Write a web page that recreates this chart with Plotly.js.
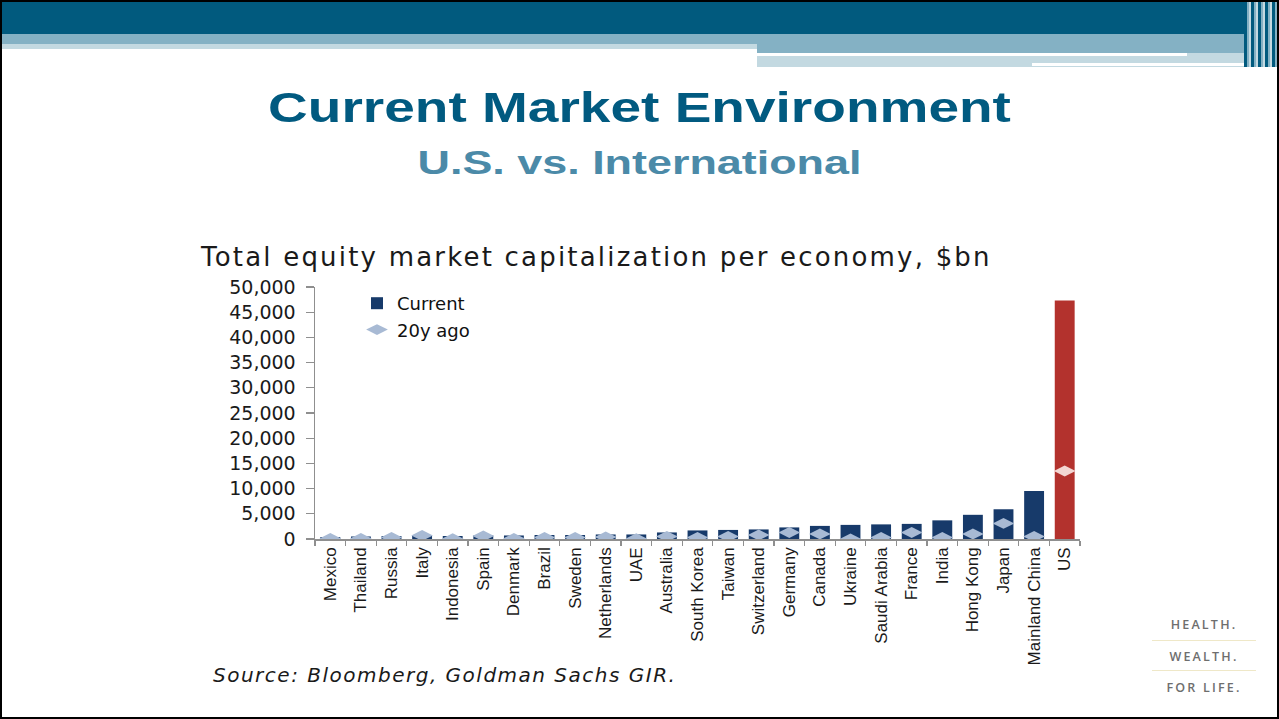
<!DOCTYPE html>
<html>
<head>
<meta charset="utf-8">
<script src="https://cdn.plot.ly/plotly-3.0.1.min.js"></script>
<style>
  html, body { margin: 0; padding: 0; background: #ffffff; }
  #slide { position: relative; width: 1279px; height: 719px; overflow: hidden; background: #ffffff; }
  .blk { position: absolute; }
  #chart { position: absolute; left: 0; top: 0; width: 1279px; height: 719px; }
  .stitle { position: absolute; left: 0; width: 1279px; text-align: center; white-space: nowrap;
            font-family: "Liberation Sans", Arial, sans-serif; font-weight: bold; }
  .logo { position: absolute; left: 1150px; width: 108px; text-align: center; font-family: "Open Sans", "Liberation Sans", sans-serif;
          font-size: 12.5px; letter-spacing: 2.2px; color: #6e6e6e; font-weight: 600; }
  .logoline { position: absolute; left: 1152px; width: 104px; height: 1px; background: #efe8c8; }
</style>
</head>
<body>
<div id="slide">
  <!-- header bands -->
  <div class="blk" style="left:0;top:0;width:1279px;height:34px;background:#015a7e;"></div>
  <div class="blk" style="left:0;top:34px;width:1246px;height:10px;background:#84b1c4;"></div>
  <div class="blk" style="left:0;top:44px;width:757px;height:5px;background:#c3d9e1;"></div>
  <div class="blk" style="left:757px;top:44px;width:489px;height:9px;background:#84b1c4;"></div>
  <div class="blk" style="left:757px;top:53px;width:491px;height:14px;background:#c3d9e1;"></div>
  <div class="blk" style="left:757px;top:53px;width:430px;height:3px;background:#ffffff;"></div>
  <div class="blk" style="left:1032px;top:63px;width:216px;height:3px;background:#ffffff;"></div>
  <div class="blk" style="left:1244px;top:0;width:35px;height:67px;background:repeating-linear-gradient(90deg,#015a7e 0px,#015a7e 3px,#84b1c4 3px,#84b1c4 5px,#c3d9e1 5px,#c3d9e1 7px);"></div>
  <!-- frame -->
  <div class="blk" style="left:0;top:0;width:1279px;height:2px;background:#000;"></div>
  <div class="blk" style="left:0;top:0;width:2px;height:719px;background:#000;"></div>
  <div class="blk" style="left:1277px;top:0;width:2px;height:719px;background:#000;"></div>
  <div class="blk" style="left:0;top:717px;width:1279px;height:2px;background:#000;"></div>

  <div id="chart"></div>

  <div class="stitle" id="t1" style="top:87px;font-size:42px;line-height:42px;color:#015a80;transform:scaleX(1.31);">Current Market Environment</div>
  <div class="stitle" id="t2" style="top:145px;font-size:34px;line-height:34px;color:#4b8aa8;transform:scaleX(1.32);">U.S. vs. International</div>

  <div class="logo" style="top:616px;">HEALTH.</div>
  <div class="logoline" style="top:640px;"></div>
  <div class="logo" style="top:648px;">WEALTH.</div>
  <div class="logoline" style="top:670px;"></div>
  <div class="logo" style="top:679px;">FOR LIFE.</div>
</div>
<script>
// ---- data ----
var countries = ["Mexico","Thailand","Russia","Italy","Indonesia","Spain","Denmark","Brazil","Sweden","Netherlands","UAE","Australia","South Korea","Taiwan","Switzerland","Germany","Canada","Ukraine","Saudi Arabia","France","India","Hong Kong","Japan","Mainland China","US"];
var currentCap = [400,500,600,700,600,700,700,800,800,900,900,1300,1700,1800,1900,2300,2600,2800,2900,3000,3700,4800,5900,9500,47300];
var cap20yAgo = [100,100,300,700,50,600,100,300,300,400,50,500,300,500,800,1300,1000,0,300,1300,300,1000,3100,500,13500];
var highlight = "US";

var navy = "#173a6a", red = "#b3322d", diamondCol = "#a8bad4", diamondOnRed = "#f3d6d2";
var barColors = countries.map(function(c){ return c === highlight ? red : navy; });
var dotColors = countries.map(function(c){ return c === highlight ? diamondOnRed : diamondCol; });

var traces = [
  { type: "bar", name: "Current", x: countries, y: currentCap,
    marker: { color: barColors, line: { width: 0 } }, hoverinfo: "skip" },
  { type: "scatter", mode: "markers", name: "20y ago", x: countries, y: cap20yAgo,
    marker: { symbol: "diamond-wide", size: 15.5, color: dotColors, line: { width: 0 } }, hoverinfo: "skip" }
];

var L = 315, R = 1080, T = 287, B = 539;
function px(x){ return (x - L) / (R - L); }
function py(y){ return (B - y) / (B - T); }

var layout = {
  width: 1279, height: 719, autosize: false,
  margin: { l: L, r: 1279 - R, t: T, b: 719 - B, pad: 0 },
  paper_bgcolor: "rgba(0,0,0,0)", plot_bgcolor: "rgba(0,0,0,0)",
  bargap: 0.35, showlegend: true, hovermode: false,
  font: { family: "DejaVu Sans, sans-serif", color: "#1a1a1a" },
  xaxis: {
    type: "category", range: [-0.5, countries.length - 0.5], autorange: false,
    tickangle: -90, showgrid: false, zeroline: false,
    showline: true, linecolor: "#8f8f8f", linewidth: 1.5,
    ticks: "outside", tickson: "boundaries", ticklen: 5, tickcolor: "#8f8f8f", tickwidth: 1.2,
    tickfont: { family: "Liberation Sans, Arial, sans-serif", size: 17, color: "#1a1a1a" },
    fixedrange: true
  },
  yaxis: {
    range: [0, 50000], autorange: false, dtick: 5000, tick0: 0, tickformat: ",d",
    showgrid: false, zeroline: false, showline: true, linecolor: "#8f8f8f", linewidth: 1.5,
    ticks: "outside", ticklen: 8, tickcolor: "#8f8f8f", tickwidth: 1.2, ticklabelstandoff: 6,
    tickfont: { family: "DejaVu Sans, sans-serif", size: 19, color: "#1a1a1a" },
    fixedrange: true
  },
  legend: {
    x: px(357), y: py(285), xanchor: "left", yanchor: "top",
    bgcolor: "rgba(0,0,0,0)", borderwidth: 0, tracegroupgap: 0,
    font: { family: "DejaVu Sans, sans-serif", size: 18, color: "#111" }
  },
  annotations: [
    { xref: "paper", yref: "paper", x: px(198), y: py(257), xanchor: "left", yanchor: "middle", showarrow: false,
      text: '<span style="letter-spacing:2.2px">Total equity market capitalization per economy, $bn</span>',
      font: { family: "DejaVu Sans, sans-serif", size: 26, color: "#1a1a1a" } },
    { xref: "paper", yref: "paper", x: px(211), y: py(675), xanchor: "left", yanchor: "middle", showarrow: false,
      text: '<span style="letter-spacing:1.5px"><i>Source: Bloomberg, Goldman Sachs GIR.</i></span>',
      font: { family: "DejaVu Sans, sans-serif", size: 20, color: "#1a1a1a" } }
  ]
};

Plotly.newPlot("chart", traces, layout, { displayModeBar: false, staticPlot: true });
</script>
</body>
</html>
